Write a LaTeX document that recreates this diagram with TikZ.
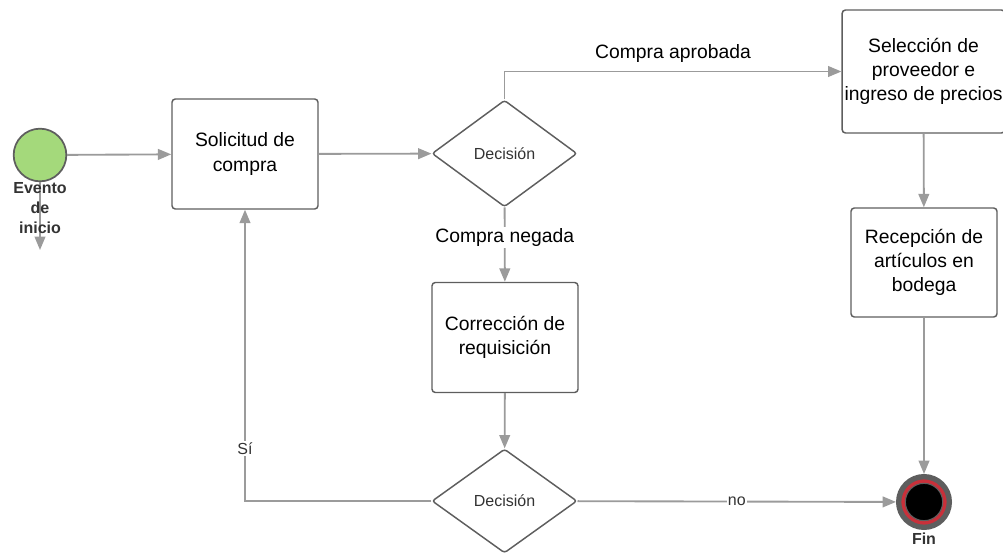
\documentclass[tikz,border=0pt]{standalone}
\usepackage{fontspec}
\setmainfont{Liberation Sans}
\usepackage{xcolor}
\usetikzlibrary{shapes.geometric,arrows.meta}
\definecolor{linegray}{HTML}{9B9B9B}
\definecolor{boxgray}{HTML}{5E5E5E}
\definecolor{startgreen}{HTML}{A4D97B}
\definecolor{endred}{HTML}{C9303A}
\tikzset{
  box/.style={draw=boxgray, line width=1.1pt, rounded corners=2.5pt, fill=white, align=center,
    minimum width=109.5pt, minimum height=82.5pt, inner sep=0pt, font=\fontsize{14.5}{18}\selectfont},
  decision/.style={diamond, draw=boxgray, line width=1.1pt, rounded corners=2pt, fill=white,
    minimum width=108.75pt, minimum height=80pt, inner sep=0pt, text=black!80,
    font=\fontsize{12}{14}\selectfont},
  flow/.style={draw=linegray, line width=1.4pt, -{Triangle[length=10pt,width=8pt]}},
  flowlabel/.style={text=black, font=\fontsize{14.5}{18}\selectfont},
  smalllabel/.style={text=black!80, fill=white, inner sep=1pt, font=\fontsize{12}{14}\selectfont},
  eventlabel/.style={text=black!80, align=center, font=\bfseries\fontsize{12}{15}\selectfont}
}
\begin{document}
\begin{tikzpicture}[x=0.75pt,y=-0.75pt]
\useasboundingbox (0,0) rectangle (1003,553);

\node[circle, draw=boxgray, fill=startgreen, line width=1.3pt, minimum size=39.5pt] (start) at (40,155) {};
\coordinate (startout) at (40,250);
\node[box] (sol) at (245,154) {Solicitud de\\compra};
\node[decision] (dec1) at (504.5,153.5) {Decisión};
\node[box, minimum width=122pt, minimum height=92.25pt] (sel) at (923.5,71.5) {Selección de\\proveedor e\\ingreso de precios};
\node[box, minimum height=81.75pt] (rec) at (924,262.5) {Recepción de\\artículos en\\bodega};
\node[box] (cor) at (505,337.5) {Corrección de\\requisición};
\node[decision, minimum height=78pt] (dec2) at (504.5,501) {Decisión};
\node[circle, draw=boxgray, fill=endred, line width=4pt, minimum size=38pt] (fin) at (924,502) {};
\fill[black, draw=boxgray, line width=0.8pt] (fin.center) circle (14pt);

\draw[flow] (start) -- (startout);
\node[eventlabel] (startlbl) at (40,208) {Evento\\de\\inicio};
\node[eventlabel] (finlbl) at (924,539) {Fin};

\draw[flow] (start) -- (sol);
\draw[flow] (sol) -- (dec1);
\draw[flow] (dec1.north) |- (sel.west) node[flowlabel, pos=0.75, above=3pt] {Compra aprobada};
\draw[flow] (sel) -- (rec);
\draw[flow] (rec) -- (fin);
\draw[flow] (dec1) -- (cor) node[flowlabel, fill=white, inner sep=1pt, pos=0.4] {Compra negada};
\draw[flow] (cor) -- (dec2);
\draw[flow] (dec2) -- (fin) node[smalllabel, midway] {no};
\draw[flow] (dec2.west) -| (sol.south) node[smalllabel, pos=0.59] {Sí};
\end{tikzpicture}
\end{document}
